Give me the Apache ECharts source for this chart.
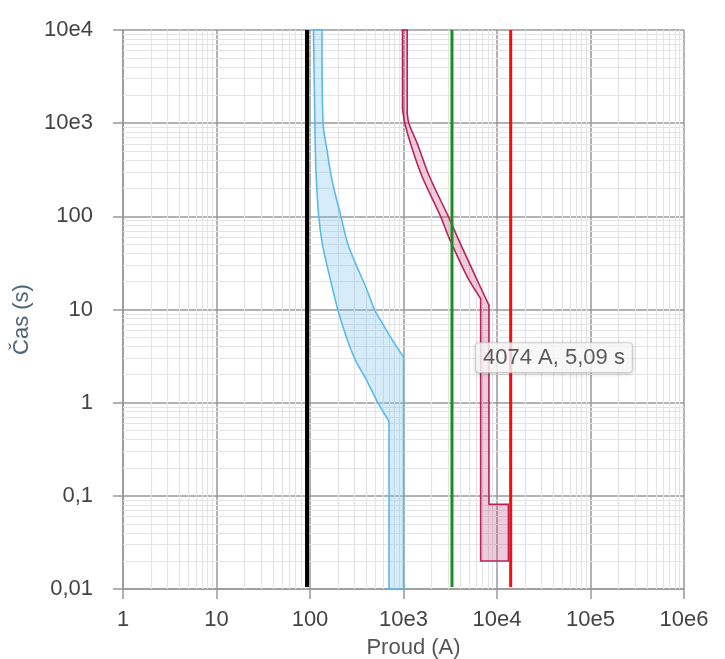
<!DOCTYPE html>
<html>
<head>
<meta charset="utf-8">
<script src="https://cdn.jsdelivr.net/npm/echarts@6/dist/echarts.min.js"></script>
<style>
html,body{margin:0;padding:0;background:#fff;}
#chart{width:725px;height:659px;}
</style>
</head>
<body>
<div id="chart"></div>
<script>
// Tick labels
const xTickLabels = ['1', '10', '100', '10e3', '10e4', '10e5', '10e6'];
const yTickLabels = ['0,01', '0,1', '1', '10', '100', '10e3', '10e4'];
const xName = 'Proud (A)';
const yName = 'Čas (s)';

// Blue band (current A, time s)
const blueLeft = [[109, 10000], [112.7, 1000], [114, 513], [117, 244], [124, 100], [135.6, 50.4], [150, 31.5], [176, 16.1], [198, 10], [251, 4.7], [306, 2.86], [402, 1.75], [531, 1], [700, 0.63], [700, 0.01]];
const blueRight = [[134.5, 10000], [138, 1000], [152, 513], [172, 244], [214, 100], [254, 50.4], [306, 31.5], [408, 16.1], [489, 10], [567, 7.7], [762, 4.7], [1000, 3.1], [1000, 0.01]];

// Maroon band
const redLeft = [[975, 10000], [975, 1450], [1033, 1000], [1189, 605], [1585, 265.6], [2493, 100], [3036, 60.3], [4817, 22.4], [6685, 13.1], [6685, 0.02], [13240, 0.02]];
const redRight = [[1096, 10000], [1096, 1280], [1140, 1000], [1403, 605], [1901, 265.6], [3013, 100], [3762, 60.3], [5911, 22.4], [8203, 11.1], [8203, 0.081], [13240, 0.081]];

// Vertical current lines
const blackCurrent = 93;
const greenCurrent = 3300;
const redCurrent = 14000;
const lineTimes = [0.0105, 10000];

// Highlighted point
const tipCurrent = 4074;
const tipTime = 5.09;

const FONT = 'Liberation Sans, Arial, sans-serif';

function decades(min, max) {
  const out = [];
  for (let e = Math.log10(min); e < Math.log10(max); e++) {
    for (let k = 2; k <= 9; k++) out.push(k * Math.pow(10, e));
  }
  return out;
}
const xMinor = decades(1, 1e6);
const yMinor = decades(0.01, 1e4);

function bandSeries(left, right, lRange, rRange, stroke, fill) {
  const poly = left.concat(right.slice().reverse());
  return {
    type: 'custom',
    coordinateSystem: 'cartesian2d',
    silent: true,
    z: 3,
    data: [[left[0][0], left[0][1]]],
    renderItem: function (params, api) {
      const c = pts => pts.map(p => api.coord(p));
      const lineStyle = { fill: null, stroke: stroke, lineWidth: 1.6, lineJoin: 'round', lineCap: 'round' };
      const children = [{
        type: 'polygon', shape: { points: c(poly) }, style: { fill: fill, stroke: null }
      }];
      function parts(pts, a, b) {
        if (a > 0) children.push({ type: 'polyline', shape: { points: c(pts.slice(0, a + 1)) }, style: lineStyle });
        children.push({ type: 'polyline', shape: { points: c(pts.slice(a, b + 1)), smooth: 0.35 }, style: lineStyle });
        if (b < pts.length - 1) children.push({ type: 'polyline', shape: { points: c(pts.slice(b)) }, style: lineStyle });
      }
      parts(left, lRange[0], lRange[1]);
      parts(right, rRange[0], rRange[1]);
      children.push({ type: 'polyline', shape: { points: c([left[0], right[0]]) }, style: lineStyle });
      children.push({ type: 'polyline', shape: { points: c([left[left.length - 1], right[right.length - 1]]) }, style: lineStyle });
      return { type: 'group', children: children };
    }
  };
}

function vline(x, color, width) {
  return {
    type: 'line',
    data: lineTimes.map(t => [x, t]),
    symbol: 'none',
    silent: true,
    z: 4,
    lineStyle: { color: color, width: width }
  };
}

const chart = echarts.init(document.getElementById('chart'));
chart.setOption({
  animation: false,
  grid: { left: 123, right: 41, top: 30, bottom: 70, containLabel: false, outerBoundsMode: 'none' },
  xAxis: {
    type: 'log', logBase: 10, min: 1, max: 1e6,
    name: xName, nameLocation: 'middle', nameGap: 48,
    nameTextStyle: { fontFamily: FONT, fontSize: 22, color: '#555', padding: [0, 0, 0, 20] },
    axisLine: { show: true, lineStyle: { color: '#999', width: 1.5 } },
    axisTick: { show: true, length: 10, lineStyle: { color: '#999', width: 1.5 } },
    axisLabel: {
      fontFamily: FONT, fontSize: 22, color: '#444', margin: 20,
      formatter: v => xTickLabels[Math.round(Math.log10(v))]
    },
    splitLine: { show: true, lineStyle: { color: '#999', width: 1.5 } }
  },
  yAxis: {
    type: 'log', logBase: 10, min: 0.01, max: 1e4,
    name: yName, nameLocation: 'middle', nameGap: 84, nameRotate: 90,
    nameTextStyle: { fontFamily: FONT, fontSize: 22, color: '#4d6577', padding: [0, 20, 0, 0] },
    axisLine: { show: true, lineStyle: { color: '#999', width: 1.5 } },
    axisTick: { show: true, length: 10, lineStyle: { color: '#999', width: 1.5 } },
    axisLabel: {
      fontFamily: FONT, fontSize: 22, color: '#444', margin: 30,
      formatter: v => yTickLabels[Math.round(Math.log10(v)) + 2]
    },
    splitLine: { show: true, lineStyle: { color: '#999', width: 1.5 } }
  },
  series: [
    {
      type: 'line', data: [], silent: true, z: 1,
      markLine: {
        z: 1, silent: true, symbol: 'none', animation: false,
        label: { show: false },
        emphasis: { disabled: true },
        lineStyle: { color: '#e4e4e4', width: 1.2, type: 'solid' },
        data: xMinor.map(v => ({ xAxis: v })).concat(yMinor.map(v => ({ yAxis: v })))
      }
    },
    bandSeries(blueLeft, blueRight, [0, 13], [0, 11], '#5bbbe8', 'rgba(120,195,235,0.3)'),
    bandSeries(redLeft, redRight, [1, 8], [1, 8], '#b8235c', 'rgba(190,50,110,0.25)'),
    vline(blackCurrent, '#000000', 4),
    vline(greenCurrent, '#1f8c1f', 3),
    vline(redCurrent, '#ff0a0a', 3),
    {
      type: 'scatter', z: 6, silent: true,
      symbolSize: 1, itemStyle: { color: 'rgba(0,0,0,0)' },
      data: [[tipCurrent, tipTime]],
      label: {
        show: true, position: [16, 7],
        formatter: () => tipCurrent + ' A, ' + String(tipTime).replace('.', ',') + ' s',
        fontFamily: FONT, fontSize: 22, color: '#333', lineHeight: 23,
        backgroundColor: '#fff', borderColor: '#cfcfcf', borderWidth: 1, borderRadius: 3,
        padding: [3, 7],
        shadowBlur: 4, shadowColor: 'rgba(0,0,0,0.18)', shadowOffsetY: 1
      }
    }
  ]
});
</script>
</body>
</html>
